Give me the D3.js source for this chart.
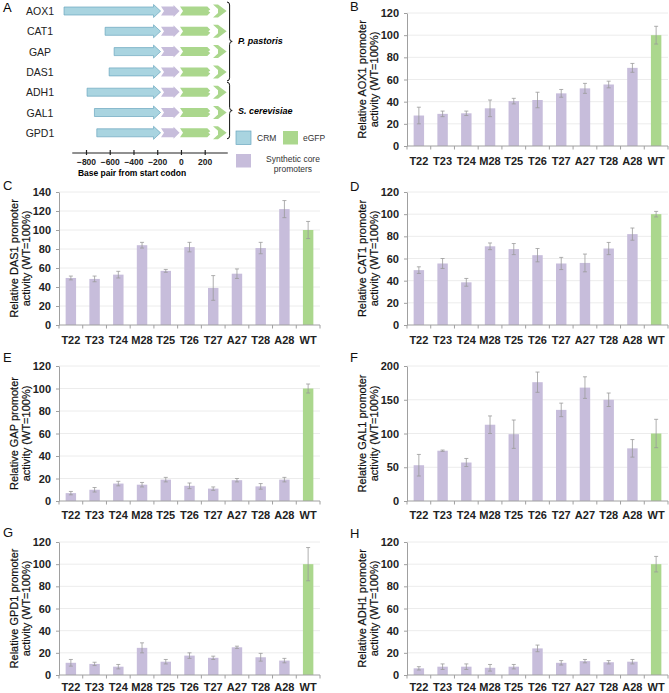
<!DOCTYPE html>
<html><head><meta charset="utf-8">
<script src="https://cdn.jsdelivr.net/npm/d3@7"></script>
<style>body{margin:0;background:#fff}svg{display:block}text{font-family:"Liberation Sans",Arial,sans-serif}</style>
</head><body><svg id="c" width="669" height="693"></svg>
<script>
// ---------- DATA ----------
const categories = ["T22","T23","T24","M28","T25","T26","T27","A27","T28","A28","WT"];
const aox1Values = [27.5,29,29.5,34,40.5,41.5,47.5,52,55.5,70.5,100];
const aox1Errors = [7.5,2.5,2,7.5,2.5,7,3.5,4.5,3,4,8];
const das1Values = [49.5,48.5,53,84,57,82,39,54,81,122,100];
const das1Errors = [2,3,3.5,3,1.5,5,13,5,6,9,9];
const cat1Values = [49.5,55.5,38.5,71,68.5,63,55.5,56,69,82,100];
const cat1Errors = [3,4.5,3.5,3,5,6,5.5,8,5.5,5.5,2.5];
const gapValues = [7,10,15.5,14.5,19,13.5,11,18.5,13,19,100];
const gapErrors = [1.5,2,2,2,2,2.5,1.5,1.5,2.5,2,4];
const gal1Values = [53,74.5,57,113,99,176,135,168,150,78,100];
const gal1Errors = [16,1,6,13,21,15,10,16,10,13,21];
const gpd1Values = [11,10,7.5,24.5,12,17.5,15.5,25,16,13,100];
const gpd1Errors = [3,1.5,2,4.5,2,2.5,1.5,1,3.5,2,15];
const adh1Values = [6,7.5,7.5,6.5,7.5,24,11,12.5,11.5,12,100];
const adh1Errors = [1.5,2.5,2.5,3,2,3,2,1.5,1.5,2,7];

// panel A diagram data
const genes = ["AOX1","CAT1","GAP","DAS1","ADH1","GAL1","GPD1"];
const crmStart = [-985,-639,-563,-605,-791,-729,-709];   // bp
const bpTicks = [-800,-600,-400,-200,0,200];
const species = [{name:"P. pastoris", from:0, to:3}, {name:"S. cerevisiae", from:4, to:6}];

// ---------- STYLE ----------
const purple = "#c7bddb", green = "#abd78d", blue = "#a9d4e0", blueStroke = "#6aa6bf";
const svg = d3.select("#c");

// ---------- PANEL A ----------
(function(){
  const g = svg.append("g");
  const x = d3.scaleLinear().domain([-800,200]).range([86,204.7]);
  const rowY = i => 11 + i*20.3;
  g.append("text").attr("x",3).attr("y",12).attr("font-size",13).text("A");
  genes.forEach((name,i)=>{
    const y = rowY(i);
    g.append("text").attr("x",40).attr("y",y+4).attr("text-anchor","middle").attr("font-size",10.5).attr("fill","#222").text(name);
    const x0 = x(crmStart[i]), xt = x(-172), xh = xt-7;
    g.append("path").attr("d",`M${x0},${y-4}L${xh},${y-4}L${xh},${y-6.5}L${xt},${y}L${xh},${y+6.5}L${xh},${y+4}L${x0},${y+4}Z`)
      .attr("fill",blue).attr("stroke",blueStroke).attr("stroke-width",0.7);
    const p0 = x(-168), pt = x(-12), ph = pt-6;
    g.append("path").attr("d",`M${p0},${y-4.5}L${ph},${y-4.5}L${ph},${y-6}L${pt},${y}L${ph},${y+6}L${ph},${y+4.5}L${p0},${y+4.5}L${p0+3},${y}Z`)
      .attr("fill",purple);
    const e0 = x(-8), e1 = x(222);
    g.append("path").attr("d",`M${e0},${y-4.5}L${e1},${y-4.5}L${e1+3},${y-1.5}L${e1+1},${y}L${e1+3},${y+1.5}L${e1},${y+4.5}L${e0},${y+4.5}L${e0+3},${y}Z`)
      .attr("fill",green);
    const h0 = x(270), ht = x(385);
    g.append("path").attr("d",`M${h0},${y-6.5}L${h0+5},${y-6.5}L${ht},${y}L${h0+5},${y+6.5}L${h0},${y+6.5}L${h0+5},${y+2}L${h0+5},${y-2}Z`)
      .attr("fill",green);
  });
  species.forEach((s,k)=>{
    const y1 = rowY(s.from)-9 + (k?-1:0), y2 = rowY(s.to)+ (k?6:9), ym = (y1+y2)/2, x0 = 227, w = 2.6, r = 3;
    g.append("path").attr("d",`M${x0},${y1}Q${x0+w},${y1} ${x0+w},${y1+r}L${x0+w},${ym-r}Q${x0+w},${ym} ${x0+2*w},${ym}Q${x0+w},${ym} ${x0+w},${ym+r}L${x0+w},${y2-r}Q${x0+w},${y2} ${x0},${y2}`)
      .attr("fill","none").attr("stroke","#111").attr("stroke-width",1);
    g.append("text").attr("x",x0+11).attr("y",ym+3).attr("font-size",9).attr("font-weight","bold").attr("font-style","italic").text(s.name);
  });
  const xa = d3.scaleLinear().domain([-920,390]).range([x(-920),x(390)]);
  const ax = g.append("g").attr("transform","translate(0,152.5)")
    .call(d3.axisBottom(xa).tickValues(bpTicks).tickSize(2.5).tickSizeOuter(0).tickPadding(4));
  ax.select(".domain").attr("stroke","#222").attr("stroke-width",1.2);
  ax.selectAll(".tick line").attr("stroke","#222").attr("y1",-2.5).attr("stroke-width",1.2);
  ax.selectAll(".tick text").attr("font-weight","bold").attr("fill","#222").attr("font-family","'DejaVu Sans',sans-serif").attr("font-size",8.5);
  g.append("text").attr("x",132).attr("y",176).attr("text-anchor","middle").attr("font-size",8.5).attr("font-weight","bold").attr("font-family","'DejaVu Sans',sans-serif").text("Base pair from start codon");
  const leg = [{c:blue,s:blueStroke,x:236,y:131,t:["CRM"],tx:257},{c:green,s:"none",x:283,y:131,t:["eGFP"],tx:303},{c:purple,s:"none",x:236,y:154,t:["Synthetic core","promoters"],tx:293}];
  leg.forEach(l=>{
    g.append("rect").attr("x",l.x).attr("y",l.y).attr("width",15).attr("height",13.5).attr("fill",l.c).attr("stroke",l.s).attr("stroke-width",0.7);
    l.t.forEach((t,j)=>{
      g.append("text").attr("x",l.tx).attr("y",l.y+10+j*9.5 - (l.t.length>1?2:0)).attr("font-size",8.5)
        .attr("fill","#333").attr("text-anchor",l.t.length>1?"middle":"start").attr("font-family","'DejaVu Sans',sans-serif").text(t);
    });
  });
})();

// ---------- BAR PANELS ----------
const panels = [
  {letter:"B", gene:"AOX1", vals:aox1Values, errs:aox1Errors, max:120, step:20, col:1, top:13,  bot:146, ly:11, lab:19},
  {letter:"C", gene:"DAS1", vals:das1Values, errs:das1Errors, max:140, step:20, col:0, top:192, bot:325, ly:190, lab:19},
  {letter:"D", gene:"CAT1", vals:cat1Values, errs:cat1Errors, max:120, step:20, col:1, top:192, bot:325, ly:191, lab:19},
  {letter:"E", gene:"GAP",  vals:gapValues,  errs:gapErrors,  max:120, step:20, col:0, top:366, bot:501, ly:362, lab:18},
  {letter:"F", gene:"GAL1", vals:gal1Values, errs:gal1Errors, max:200, step:50, col:1, top:366, bot:501, ly:362, lab:18},
  {letter:"G", gene:"GPD1", vals:gpd1Values, errs:gpd1Errors, max:120, step:20, col:0, top:542, bot:675, ly:537, lab:15.5},
  {letter:"H", gene:"ADH1", vals:adh1Values, errs:adh1Errors, max:120, step:20, col:1, top:542, bot:675, ly:538, lab:15.5}
];
const colX = [[59,320],[407,668]];

panels.forEach(p=>{
  const [x0,x1] = colX[p.col];
  const g = svg.append("g");
  const x = d3.scaleBand().domain(categories).range([x0,x1]).paddingInner(0.56).paddingOuter(0.28);
  const y = d3.scaleLinear().domain([0,p.max]).range([p.bot,p.top]);
  const ticks = d3.range(0,p.max+0.01,p.step);
  g.selectAll(".grid").data(ticks.slice(1)).join("line")
    .attr("x1",x0).attr("x2",x1).attr("y1",d=>y(d)).attr("y2",d=>y(d)).attr("stroke","#ececec").attr("stroke-width",1);
  const ya = g.append("g").attr("transform",`translate(${x0},0)`)
    .call(d3.axisLeft(y).tickValues(ticks).tickSize(3).tickSizeOuter(0).tickPadding(5));
  ya.select(".domain").attr("stroke","#a0a0a0");
  ya.selectAll(".tick line").attr("stroke","#a0a0a0");
  ya.selectAll(".tick text").attr("font-size",11).attr("font-weight","bold").attr("fill","#222");
  g.selectAll(".bar").data(categories).join("rect")
    .attr("x",d=>x(d)).attr("width",x.bandwidth())
    .attr("y",(d,i)=>y(p.vals[i])).attr("height",(d,i)=>y(0)-y(p.vals[i]))
    .attr("fill",d=>d==="WT"?green:purple);
  categories.forEach((c,i)=>{
    const cx = x(c)+x.bandwidth()/2, v=p.vals[i], e=p.errs[i];
    g.append("path").attr("d",`M${cx},${y(v-e)}L${cx},${y(v+e)}M${cx-2},${y(v+e)}L${cx+2},${y(v+e)}M${cx-2},${y(v-e)}L${cx+2},${y(v-e)}`)
      .attr("stroke","#9a9a9a").attr("stroke-width",0.8).attr("fill","none");
  });
  const step = x.step();
  g.append("line").attr("x1",x0).attr("x2",x1).attr("y1",y(0)).attr("y2",y(0)).attr("stroke","#a0a0a0");
  g.selectAll(".xt").data(d3.range(categories.length+1)).join("line")
    .attr("x1",i=>x0+i*step).attr("x2",i=>x0+i*step).attr("y1",y(0)).attr("y2",y(0)+3.5).attr("stroke","#a0a0a0");
  g.selectAll(".xl").data(categories).join("text")
    .attr("x",d=>x(d)+x.bandwidth()/2).attr("y",y(0)+p.lab).attr("text-anchor","middle")
    .attr("font-size",11).attr("font-weight","bold").attr("fill","#222").text(d=>d);
  const cy = (p.top+p.bot)/2;
  [["Relative "+p.gene+" promoter",-41],["activity (WT=100%)",-29.5]].forEach(([t,dx])=>{
    g.append("text").attr("transform",`translate(${x0+dx},${cy}) rotate(-90)`).attr("text-anchor","middle")
      .attr("font-size",11).attr("fill","#111").attr("stroke","#111").attr("stroke-width",0.2).text(t);
  });
  g.append("text").attr("x", p.col ? 350 : 3).attr("y",p.ly).attr("font-size",13).attr("fill","#111").text(p.letter);
});
</script></body></html>
